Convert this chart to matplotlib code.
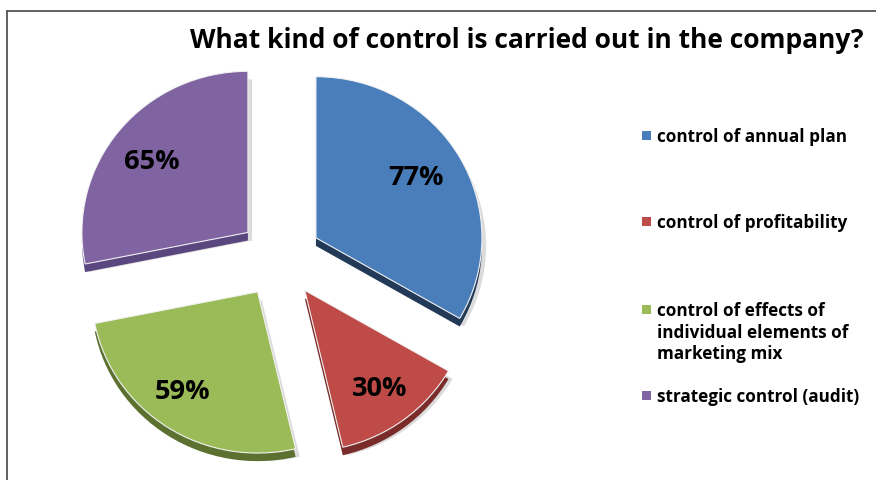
import matplotlib
matplotlib.use("Agg")
import matplotlib.pyplot as plt
from matplotlib.patches import Rectangle
from matplotlib.lines import Line2D

categories = [
    "control of annual plan",
    "control of profitability",
    "control of effects of\nindividual elements of\nmarketing mix",
    "strategic control (audit)",
]
values = [77, 30, 59, 65]
labels = ["77%", "30%", "59%", "65%"]
colors = ["#4A7EBB", "#BE4B48", "#9BBB59", "#8064A2"]
side_colors = ["#223A58", "#7A2C2A", "#5C7030", "#5B4780"]
title = "What kind of control is carried out in the company?"

W, H = 876, 481
fig = plt.figure(figsize=(W / 100, H / 100), dpi=100)
fig.patch.set_facecolor("white")

FONT = "Open Sans"

# pie axes in pixel terms: centre (280, 259), radius ~165 px
cx, cy, r_px = 280, 259, 166
half_w, half_h = 220, 219
ax = fig.add_axes([(cx - half_w) / W, (H - cy - half_h) / H, 2 * half_w / W, 2 * half_h / H])

explode = [0.25] * len(values)

# soft drop shadow
shadow, _ = ax.pie(values, explode=explode, startangle=90, counterclock=False,
                   colors=["#9a9a9a"] * 4, center=(0.025, -0.05),
                   wedgeprops=dict(linewidth=0, alpha=0.35))
# thickness of the tilted disc
side, _ = ax.pie(values, explode=explode, startangle=90, counterclock=False,
                 colors=side_colors, center=(0, -0.05),
                 wedgeprops=dict(linewidth=0))
top, _ = ax.pie(values, explode=explode, startangle=90, counterclock=False,
                colors=colors, center=(0, 0),
                wedgeprops=dict(linewidth=0.8, edgecolor="#f2f2f2"))

# pie() resets limits and aspect, so fix the view afterwards
ax.set_aspect("auto")
ax.set_xlim(-half_w / r_px, half_w / r_px)
ax.set_ylim(-half_h / r_px * 1.03, half_h / r_px * 1.03)
ax.axis("off")

label_pos = [(416, 178), (380, 389), (182, 392), (152, 162)]
for lab, (px, py) in zip(labels, label_pos):
    fig.text(px / W, 1 - py / H, lab, ha="center", va="center",
             fontsize=19.5, fontweight="bold", family=FONT, color="black")

fig.text(527 / W, 1 - 40 / H, title, ha="center", va="center",
         fontsize=19, fontweight="bold", family=FONT, color="black")

# legend
leg_y = [137, 223, 311, 397]
for name, col, ly in zip(categories, colors, leg_y):
    fig.patches.append(Rectangle(((642) / W, 1 - (ly + 4) / H), 9 / W, 9 / H,
                                 transform=fig.transFigure, facecolor=col,
                                 edgecolor="none"))
    fig.text(657 / W, 1 - (ly - 9) / H, name, ha="left", va="top",
             fontsize=12.3, fontweight="bold", family=FONT, color="black",
             linespacing=1.25)

# chart frame
frame_col = "#555555"
fig.lines.append(Line2D([7 / W, 1.0], [1 - 12 / H, 1 - 12 / H],
                        transform=fig.transFigure, color=frame_col, lw=1.3))
fig.lines.append(Line2D([7 / W, 7 / W], [1 - 12 / H, 0.0],
                        transform=fig.transFigure, color=frame_col, lw=1.3))

fig.savefig("out.png", dpi=100, facecolor="white")
